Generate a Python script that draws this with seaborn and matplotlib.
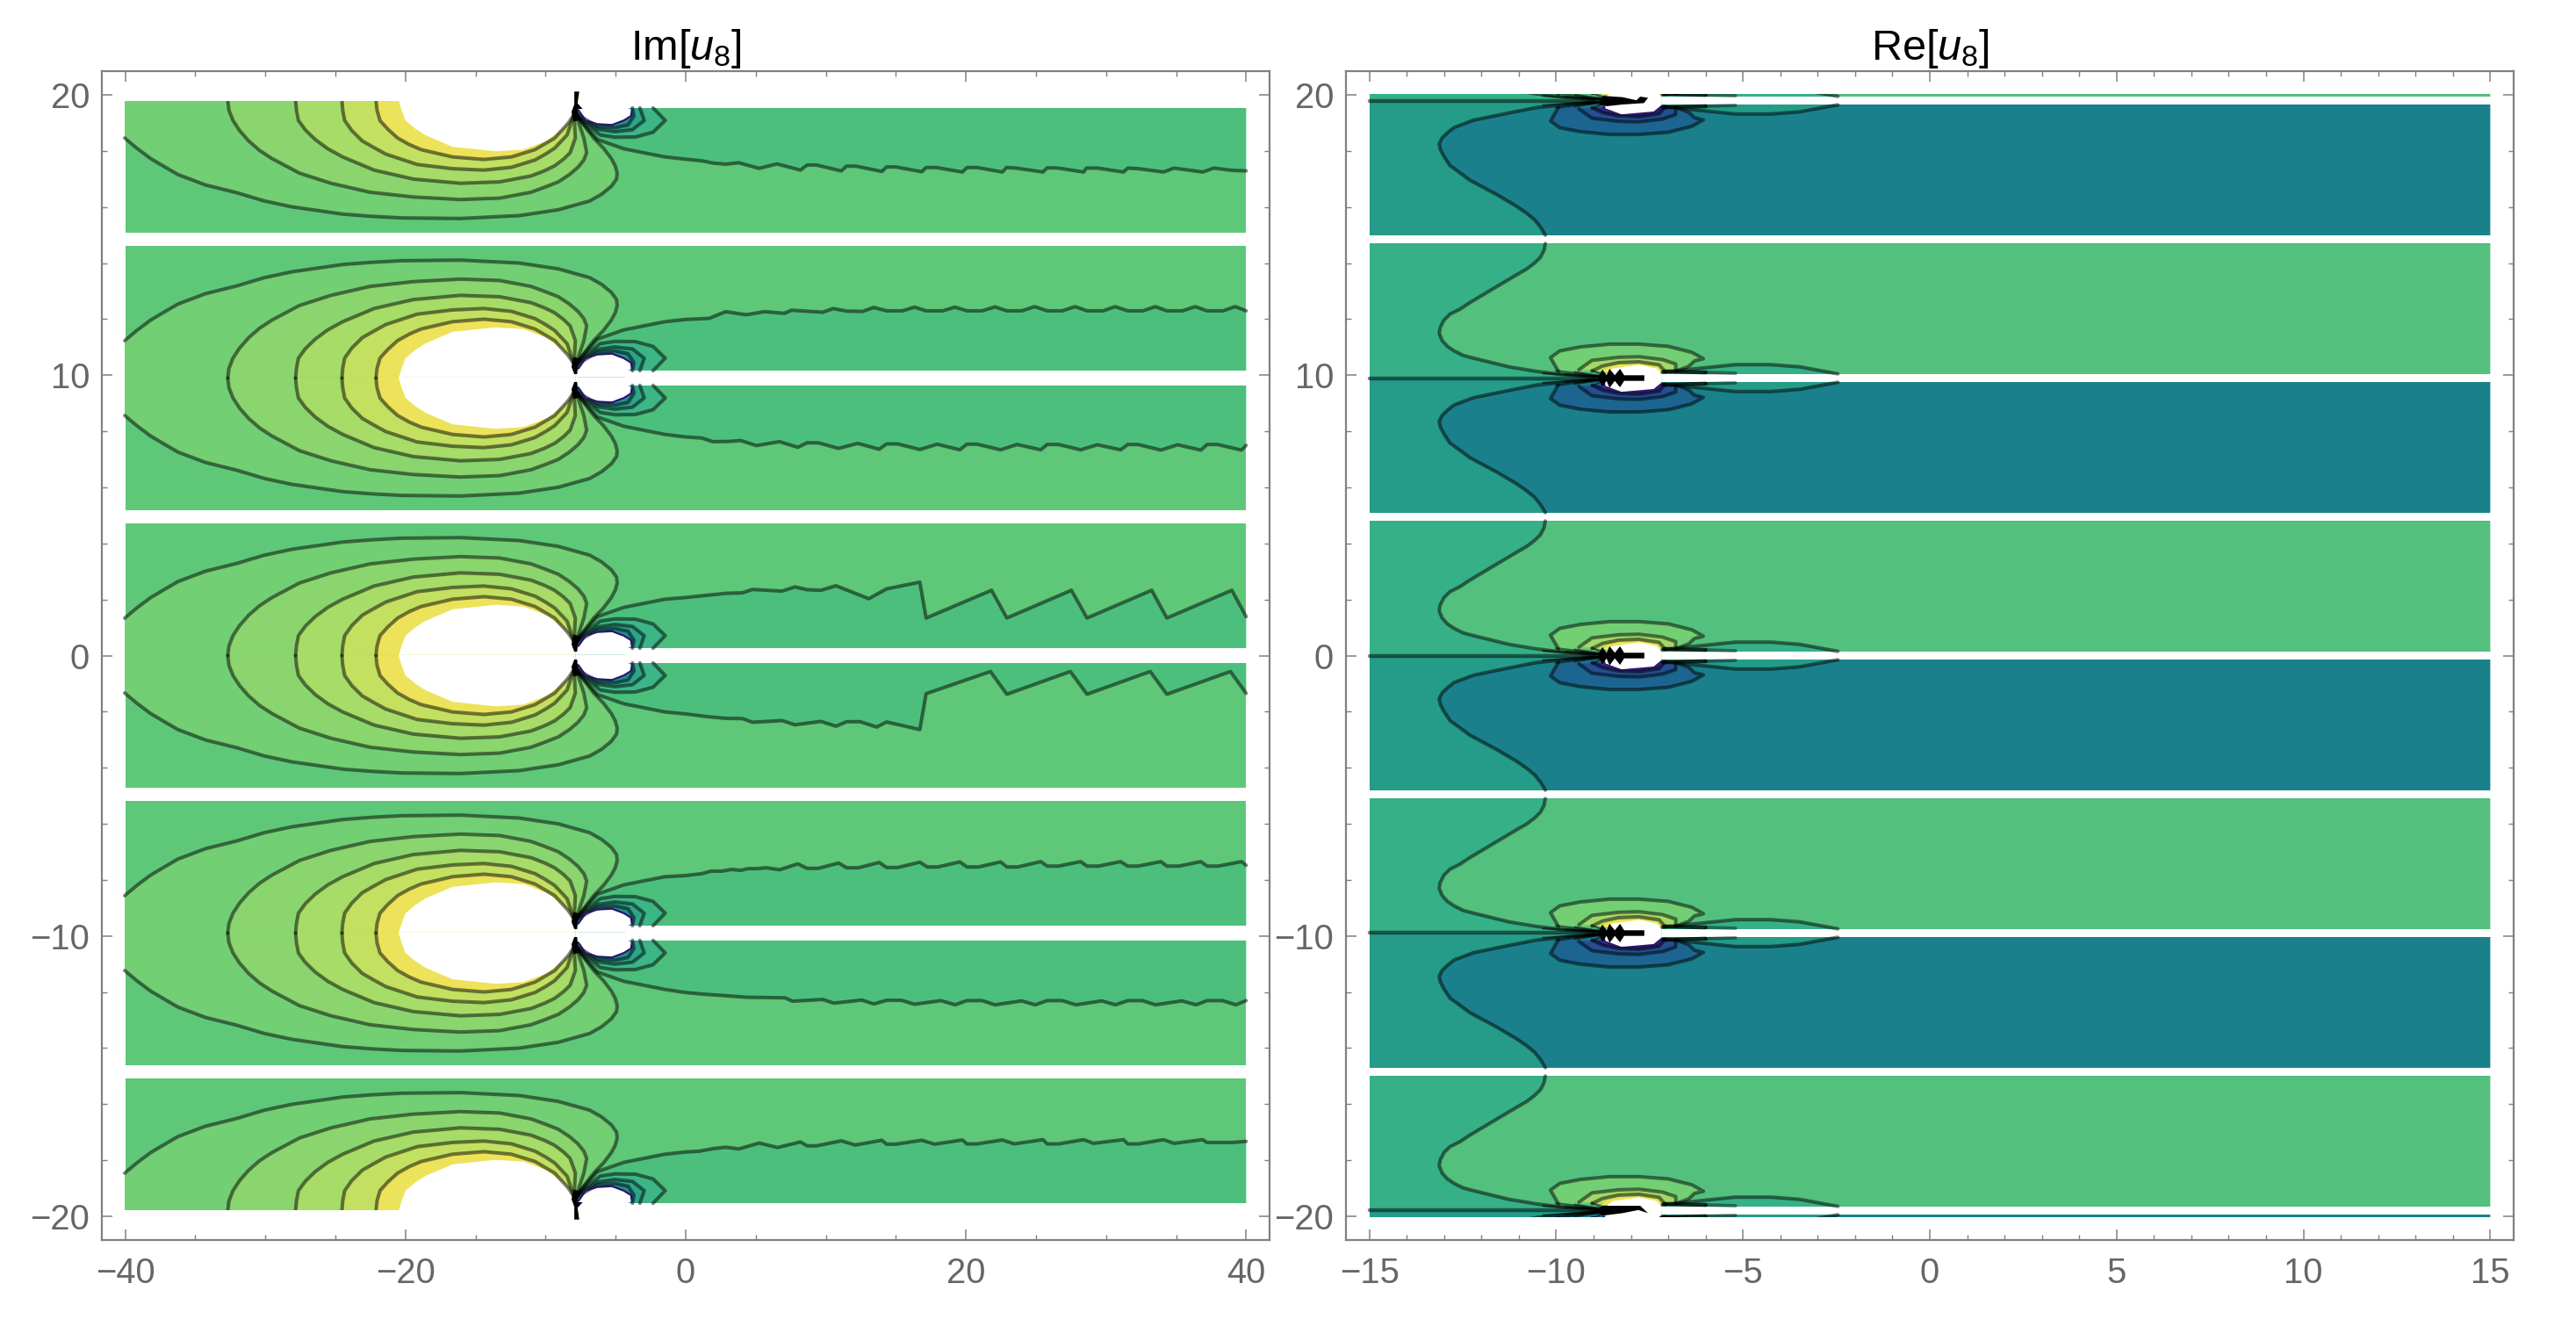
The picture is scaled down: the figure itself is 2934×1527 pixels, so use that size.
import numpy as np
import matplotlib
matplotlib.use("Agg")
import matplotlib.pyplot as plt
from matplotlib.patches import Rectangle
from matplotlib.ticker import MultipleLocator
import seaborn as sns

# ---------- values ----------
CELL_CENTERS = [19.8, 9.9, 0.0, -9.9, -19.8]
IM_XRANGE = (-40.0, 40.0)
RE_XRANGE = (-15.0, 15.0)

# Im[u8] level curves, upper half of a cell (x, offset from the cell centre)
IM_A_X = [-40.04,-39.17,-38.19,-37.2,-36.23,-34.27,-32.03,-30.08,-28.12,-24.48,-22.38,-20.28,-16.08,-11.88,-9.09,-6.85,-6.0,-5.31,-4.94,-4.89,-5.03,-5.31,-5.87,-6.57,-7.83]
IM_A_Y = [1.336,1.70,2.067,2.36,2.641,3.01,3.288,3.58,3.789,4.05,4.13,4.186,4.207,4.103,3.894,3.581,3.34,3.059,2.80,2.589,2.33,2.067,1.70,1.336,0.501]
IM_B_X = [-32.68,-32.6,-32.31,-31.84,-31.19,-30.41,-29.52,-27.56,-25.32,-22.52,-19.44,-16.08,-13.28,-11.04,-10.06,-9.09,-8.3,-7.69,-7.27,-7.07,-7.27,-7.83]
IM_B_Y = [0,0.34,0.71,1.07,1.44,1.78,2.07,2.59,2.95,3.27,3.44,3.53,3.48,3.27,3.09,2.90,2.64,2.38,2.12,1.86,1.34,0.50]
IM_C_X = [-27.84,-27.78,-27.64,-27.14,-26.44,-25.54,-24.48,-22.24,-19.44,-16.08,-13.28,-11.04,-10.06,-9.36,-8.72,-8.25,-7.88,-7.97]
IM_C_Y = [0,0.34,0.71,1.05,1.39,1.72,2.01,2.48,2.80,2.95,2.90,2.69,2.50,2.33,2.09,1.86,1.34,0.50]
IM_D_X = [-24.53,-24.48,-24.34,-23.83,-23.08,-22.24,-21.40,-19.16,-16.64,-14.40,-12.44,-10.76,-10.01,-9.36,-8.47,-7.97]
IM_D_Y = [0,0.34,0.71,1.07,1.44,1.68,1.91,2.28,2.43,2.48,2.38,2.12,1.91,1.70,1.23,0.50]
IM_E_X = [-22.10,-22.03,-21.82,-21.26,-20.56,-19.72,-18.88,-16.64,-14.40,-12.44,-10.76,-9.36,-8.39,-7.97]
IM_E_Y = [0,0.34,0.71,1.02,1.336,1.57,1.75,2.01,2.10,2.01,1.75,1.34,0.81,0.50]
IM_HOLE_X = [-20.48,-20.28,-20.0,-19.3,-18.6,-16.64,-13.56,-11.6,-9.92,-8.81,-8.25,-7.88]
IM_HOLE_Y = [0,0.34,0.71,1.0,1.23,1.65,1.81,1.75,1.44,1.02,0.71,0.14]
IM_SMALL_X = [-7.87,-7.66,-7.14,-6.30,-5.26,-4.42,-3.90,-3.84,-4.21]
IM_SMALL_Y = [0.19,0.34,0.71,0.84,0.87,0.71,0.55,0.34,0.24]
IM_L1_X = [-7.73,-6.10,-5.05,-3.59,-2.33,-1.46,-2.33]
IM_L1_Y = [0.60,1.23,1.31,1.30,1.13,0.71,0.26]
IM_L2_X = [-7.73,-6.30,-5.05,-3.80,-2.96,-3.27]
IM_L2_Y = [0.55,1.02,1.11,1.04,0.71,0.26]
IM_L3_X = [-7.73,-6.30,-5.05,-4.11,-3.69,-3.80]
IM_L3_Y = [0.50,0.92,0.97,0.87,0.55,0.26]
IM_HEAD_X = [-7.73,-6.30,-4.42,-1.50]
IM_HEAD_Y = [0.60,1.39,1.72,2.01]
IM_BLACK_X = [-7.95,-7.75,-7.70,-7.45,-8.00,-8.15]
IM_BLACK_Y = [0.14,0.14,0.40,0.68,0.75,0.40]
IM_TAG_X = [-7.95,-7.95,-7.60,-7.72,-7.35,-7.35]
IM_TAG_Y = [-0.3,0.32,0.32,-0.1,-0.3,-0.3]

# long jagged curve right of the pole, one per half cell
B0U_X = [-0.04,2.86,4.05,4.76,6.87,7.80,8.67,9.64,10.73,13.07,14.34,16.71,17.16,21.83,22.92,27.53,28.64,33.26,34.34,38.98,40.0]
B0U_Y = [2.07,2.22,2.24,2.36,2.30,2.45,2.35,2.33,2.49,2.03,2.38,2.62,1.34,2.33,1.34,2.33,1.34,2.33,1.34,2.33,1.39]
B0D_X = [-0.04,1.54,2.86,4.05,4.76,6.87,7.80,9.64,10.73,11.49,12.44,13.63,14.34,16.71,17.16,21.75,22.92,27.45,28.64,33.15,34.34,38.88,40.0]
B0D_Y = [-2.08,-2.18,-2.24,-2.25,-2.38,-2.32,-2.47,-2.35,-2.52,-2.36,-2.36,-2.55,-2.37,-2.64,-1.36,-0.57,-1.38,-0.57,-1.38,-0.57,-1.38,-0.57,-1.35]
B20D_X = [-0.04,1.15,1.94,2.86,3.79,5.24,6.50,8.19,8.67,9.33,11.1,11.49,12.15,14.0,14.34,15.0,16.85,17.16,17.9,19.75,20.07,20.8,22.6,22.9,23.6,25.5,25.8,26.6,28.4,28.6,29.4,31.25,31.55,32.3,34.1,34.85,36.9,37.7,39.0,40.0]
B20D_Y = [-2.09,-2.15,-2.23,-2.27,-2.22,-2.42,-2.26,-2.48,-2.30,-2.30,-2.51,-2.34,-2.34,-2.53,-2.37,-2.37,-2.54,-2.39,-2.39,-2.55,-2.39,-2.39,-2.55,-2.39,-2.41,-2.55,-2.40,-2.41,-2.55,-2.41,-2.41,-2.55,-2.41,-2.43,-2.55,-2.41,-2.55,-2.41,-2.49,-2.51]
B10U_X = [-0.04,1.67,2.86,4.31,5.63,7.03,7.56,9.78,10.52,11.49,12.63,13.42,14.34,15.47,16.32,17.16,18.35,19.22,20.07,21.15,22.07,22.92,24.0,24.9,25.8,26.87,27.8,28.64,29.8,30.65,31.55,32.63,33.52,34.34,35.45,36.37,37.2,38.35,39.22,40.0]
B10U_Y = [2.09,2.13,2.37,2.26,2.37,2.31,2.42,2.35,2.48,2.39,2.38,2.52,2.40,2.40,2.53,2.40,2.40,2.53,2.40,2.40,2.54,2.40,2.40,2.55,2.40,2.40,2.55,2.40,2.40,2.55,2.40,2.40,2.55,2.40,2.40,2.55,2.40,2.40,2.55,2.40]
B10D_X = [-0.04,1.15,1.94,3.13,3.92,5.05,6.69,8.0,8.67,9.46,10.91,12.28,13.81,14.34,15.13,16.71,17.95,19.56,20.07,20.8,22.47,23.65,25.34,25.8,26.6,28.19,29.38,31.04,31.55,32.28,33.92,35.1,36.77,37.22,37.95,39.67,40.0]
B10D_Y = [-2.10,-2.14,-2.27,-2.26,-2.23,-2.41,-2.27,-2.47,-2.31,-2.31,-2.51,-2.33,-2.54,-2.35,-2.35,-2.55,-2.36,-2.56,-2.36,-2.36,-2.56,-2.37,-2.56,-2.37,-2.37,-2.56,-2.38,-2.56,-2.37,-2.37,-2.57,-2.38,-2.57,-2.37,-2.37,-2.57,-2.40]
BM10U_X = [-0.04,1.15,1.8,2.6,3.26,3.92,4.45,5.1,5.76,6.69,8.0,8.67,9.46,10.91,11.49,12.31,13.81,14.34,15.13,16.71,17.24,18.0,19.56,20.07,20.9,22.47,22.92,23.7,25.34,25.8,26.6,28.19,28.64,29.46,31.04,31.55,32.28,33.92,34.34,35.2,36.77,37.22,38.0,39.67,40.0]
BM10U_Y = [2.05,2.12,2.21,2.21,2.27,2.24,2.30,2.30,2.33,2.26,2.47,2.31,2.31,2.50,2.33,2.33,2.52,2.34,2.34,2.53,2.36,2.36,2.54,2.36,2.36,2.54,2.36,2.36,2.55,2.39,2.39,2.55,2.39,2.39,2.55,2.39,2.39,2.55,2.39,2.39,2.55,2.39,2.39,2.55,2.42]
BM10D_X = [-0.04,1.28,2.73,4.31,7.08,7.61,9.78,10.57,12.57,13.42,14.34,15.4,16.32,18.22,19.22,20.07,21.15,22.07,23.97,24.95,25.8,26.87,27.85,29.7,30.67,31.55,32.6,33.52,35.42,36.42,37.22,38.3,39.27,40.0]
BM10D_Y = [-2.12,-2.18,-2.23,-2.29,-2.31,-2.43,-2.37,-2.50,-2.39,-2.53,-2.40,-2.40,-2.54,-2.41,-2.56,-2.41,-2.41,-2.56,-2.42,-2.56,-2.41,-2.41,-2.56,-2.42,-2.56,-2.41,-2.41,-2.56,-2.42,-2.56,-2.41,-2.41,-2.56,-2.41]
BM20U_X = [-0.04,1.0,1.94,2.86,3.79,5.24,6.56,8.19,8.67,9.33,11.1,12.1,14.0,14.34,15.0,16.85,17.77,19.75,20.07,20.8,22.6,23.45,25.5,25.8,26.6,28.4,29.1,31.25,31.55,32.3,34.1,34.85,36.9,37.2,39.0,40.0]
BM20U_Y = [2.09,2.12,2.21,2.26,2.20,2.41,2.25,2.45,2.31,2.31,2.49,2.34,2.51,2.37,2.37,2.51,2.37,2.52,2.38,2.38,2.52,2.38,2.53,2.38,2.38,2.53,2.40,2.53,2.38,2.38,2.53,2.40,2.53,2.43,2.43,2.47]
IM_BRANCHES = {
    (19.8, -1): (B20D_X, B20D_Y), (9.9, 1): (B10U_X, B10U_Y), (9.9, -1): (B10D_X, B10D_Y),
    (0.0, 1): (B0U_X, B0U_Y), (0.0, -1): (B0D_X, B0D_Y), (-9.9, 1): (BM10U_X, BM10U_Y),
    (-9.9, -1): (BM10D_X, BM10D_Y), (-19.8, 1): (BM20U_X, BM20U_Y),
}

# Re[u8] level curves
RE_UP_X = [-10.29,-10.32,-10.42,-10.58,-10.79,-11.05,-11.58,-12.31,-12.57,-12.84,-13.0,-13.10,-13.13,-13.05,-12.91,-12.73,-12.49,-12.21,-11.26,-10.53,-9.80,-8.96]
RE_UP_Y = [4.80,4.57,4.31,4.10,3.89,3.69,3.27,2.69,2.46,2.28,2.07,1.81,1.60,1.34,1.13,0.97,0.81,0.71,0.40,0.24,0.12,0.03]
RE_DN_X = [-10.29,-10.42,-10.58,-10.79,-11.05,-11.58,-12.31,-12.57,-12.84,-13.0,-13.10,-13.13,-13.05,-12.91,-12.73,-12.49,-12.21,-11.26,-10.53,-9.80,-8.96]
RE_DN_Y = [-4.80,-4.51,-4.25,-4.02,-3.78,-3.36,-2.84,-2.58,-2.32,-2.0,-1.74,-1.54,-1.33,-1.15,-0.96,-0.84,-0.70,-0.44,-0.25,-0.15,-0.05]
RE_L1_X = [-9.94,-10.15,-9.90,-9.35,-8.57,-7.78,-7.0,-6.37,-6.06,-6.30,-6.45,-6.80]
RE_L1_Y = [0.24,0.73,0.97,1.11,1.21,1.21,1.13,0.92,0.69,0.61,0.42,0.24]
RE_L2_X = [-9.39,-9.04,-8.33,-7.78,-7.16,-6.80,-6.80]
RE_L2_Y = [0.30,0.63,0.74,0.76,0.66,0.50,0.27]
RE_L3_X = [-9.04,-8.76,-8.33,-7.78,-7.24,-7.08]
RE_L3_Y = [0.25,0.43,0.55,0.58,0.47,0.22]
RE_L4_X = [-8.80,-8.60,-8.33,-7.78,-7.30,-7.15]
RE_L4_Y = [0.20,0.38,0.48,0.51,0.41,0.20]
RE_HOLE_X = [-8.72,-8.49,-7.78,-7.31,-7.17,-7.17,-7.39,-8.25,-8.68]
RE_HOLE_Y = [0.08,0.34,0.47,0.34,0.13,-0.15,-0.39,-0.49,-0.28]
RE_SPIKE_X = [-8.9,-8.76,-8.65,-8.57,-8.43,-8.29,-8.18,-7.64,-7.64,-8.18,-8.29,-8.43,-8.57,-8.65,-8.76]
RE_SPIKE_Y = [0,0.30,0.10,0.33,0.10,0.33,0.10,0.10,-0.10,-0.10,-0.33,-0.10,-0.35,-0.10,-0.30]
RE_TOP_SPIKE_X = [-8.75,-8.22,-7.85,-7.75,-7.54,-7.65,-8.22,-8.64,-8.85]
RE_TOP_SPIKE_Y = [0.17,0.12,0.01,0.14,0.10,-0.09,-0.14,-0.20,-0.15]
RE_BOT_SPIKE_X = [-8.75,-8.22,-7.75,-7.54,-7.80,-8.22,-8.75,-9.0]
RE_BOT_SPIKE_Y = [0.17,0.17,0.17,-0.09,0.02,-0.09,-0.18,0.0]
RE_ARC_X = [-7.16,-6.22,-5.2,-4.26,-3.48,-2.46]
RE_ARC_Y = [0.21,0.34,0.48,0.48,0.40,0.15]
RE_FAN_X = [-10.35,-10.0,-9.75,-9.5,-9.3,-9.05]
RE_FAN_Y = [0.17,0.26,0.13,0.21,0.09,0.28]
RE_STREAK_DARK_X = [-7.12,-6.0]
RE_STREAK_DARK_Y = [0.24,0.20]
RE_STREAK_PALE_X = [-6.0,-5.2]
RE_STREAK_PALE_Y = [0.20,0.17]

IM_COLORS = {"outer": "#5ec878", "branch": "#4cbf7c", "A": "#72cf74", "B": "#8ad56e", "C": "#a6dc67",
             "D": "#c3e060", "E": "#ece35a", "L1": "#3cb587", "L2": "#2ea58a", "L3": "#22908c"}
RE_COLORS = {"up_r": "#53c07e", "up_l": "#36b086", "dn_r": "#1a808c", "dn_l": "#249c89",
             "up": ["#72cf74", "#a2da69", "#c4df60", "#f0e458"],
             "dn": ["#1c6590", "#244f93", "#2f2a85", "#351270"]}
X_TICKS = {"im": (20, 5), "re": (5, 1)}
TITLES = ["Im[$\\mathit{u}_{8}$]", "Re[$\\mathit{u}_{8}$]"]

# ---------- style ----------
sns.set_theme(style="ticks")
plt.rcParams["font.family"] = ["Liberation Sans", "DejaVu Sans"]
plt.rcParams["mathtext.fontset"] = "custom"
plt.rcParams["mathtext.rm"] = "Liberation Sans"
plt.rcParams["mathtext.it"] = "Liberation Sans:italic"
plt.rcParams["mathtext.bf"] = "Liberation Sans:bold"

W, H = 2934, 1527
fig = plt.figure(figsize=(W / 200, H / 200), dpi=200, facecolor="white")
ax_im = fig.add_axes([116 / W, 1 - 1412 / H, 1330 / W, 1331 / H])
ax_re = fig.add_axes([1533 / W, 1 - 1412 / H, 1330 / W, 1331 / H])
LINE_LW = 1.45
LINE_ALPHA = 0.5
SEAM = 0.04
IM_SLIT = 0.28
RE_SLIT = 0.14


def clip_box(ax, x0, x1, y):
    return Rectangle((x0, -y), x1 - x0, 2 * y, transform=ax.transData)


def poly(ax, xs, ys, color, clip):
    for p in ax.fill(xs, ys, color=color, lw=0):
        p.set_clip_path(clip)


def line(ax, xs, ys, clip, color="black", alpha=LINE_ALPHA, lw=LINE_LW):
    sns.lineplot(x=np.asarray(xs), y=np.asarray(ys), sort=False, estimator=None, errorbar=None,
                 color=color, alpha=alpha, linewidth=lw, ax=ax, legend=False)
    ax.lines[-1].set_clip_path(clip)
    ax.lines[-1].set_solid_joinstyle("round")


def closed_to_axis(xs, ys, c, s):
    # the small overlap past the centre keeps the two halves from showing a seam
    return list(xs) + [xs[-1], xs[0]], c + s * np.array(list(ys) + [-SEAM, -SEAM])


def white_slit(ax, x0, x1, c, s, half, clip):
    # reaches past the centre so that it also clears the overlap of the other half
    poly(ax, [x0, x1, x1, x0], [c - s * 2 * SEAM, c - s * 2 * SEAM, c + s * half, c + s * half], "white", clip)


def draw_im_half(ax, c, s, clip):
    hw = 4.7
    x0, x1 = IM_XRANGE
    poly(ax, [x0, x1, x1, x0], [c, c, c + s * hw, c + s * hw], IM_COLORS["outer"], clip)
    bx, by = IM_BRANCHES[(c, s)]
    off = [s * v for v in IM_HEAD_Y] + list(by)
    fx = IM_HEAD_X + list(bx)
    px, py = list(fx) + [fx[-1], fx[0]], c + np.array(off + [0, 0])
    poly(ax, px, py, IM_COLORS["branch"], clip)
    for key, xs, ys in [("L1", IM_L1_X, IM_L1_Y), ("L2", IM_L2_X, IM_L2_Y), ("L3", IM_L3_X, IM_L3_Y)]:
        a, b = closed_to_axis(xs, ys, c, s)
        poly(ax, a, b, IM_COLORS[key], clip)
    for key, xs, ys in [("A", IM_A_X, IM_A_Y), ("B", IM_B_X, IM_B_Y), ("C", IM_C_X, IM_C_Y),
                        ("D", IM_D_X, IM_D_Y), ("E", IM_E_X, IM_E_Y)]:
        a, b = closed_to_axis(xs, ys, c, s)
        poly(ax, a, b, IM_COLORS[key], clip)
    a, b = closed_to_axis(IM_HOLE_X, IM_HOLE_Y, c, s)
    poly(ax, a, b, "white", clip)
    a, b = closed_to_axis(IM_SMALL_X, IM_SMALL_Y, c, s)
    poly(ax, a, b, "white", clip)
    white_slit(ax, -4.3, x1 + 0.1, c, s, IM_SLIT, clip)
    for xs, ys in [(IM_A_X, IM_A_Y), (IM_B_X, IM_B_Y), (IM_C_X, IM_C_Y), (IM_D_X, IM_D_Y), (IM_E_X, IM_E_Y),
                   (IM_L1_X, IM_L1_Y), (IM_L2_X, IM_L2_Y), (IM_L3_X, IM_L3_Y)]:
        line(ax, xs, c + s * np.array(ys), clip)
    line(ax, fx, c + np.array(off), clip)
    line(ax, IM_SMALL_X[1:-1], c + s * np.array(IM_SMALL_Y[1:-1]), clip, color="#2a1470", alpha=1, lw=0.8)
    for p in ax.fill(IM_BLACK_X, c + s * np.array(IM_BLACK_Y), color="black", lw=0, zorder=3):
        p.set_clip_path(clip)


def draw_re_half(ax, c, s, clip):
    hw = 4.8
    x0, x1 = RE_XRANGE
    key = "up" if s > 0 else "dn"
    cx, cy = (RE_UP_X, RE_UP_Y) if s > 0 else (RE_DN_X, RE_DN_Y)
    poly(ax, [x0, x1, x1, x0], [c, c, c + s * hw, c + s * hw], RE_COLORS[key + "_l"], clip)
    px = list(cx) + [x1, x1]
    py = list(c + np.array(cy)) + [c, c + s * hw]
    poly(ax, px, py, RE_COLORS[key + "_r"], clip)
    a, b = closed_to_axis(RE_ARC_X, RE_ARC_Y, c, s)
    poly(ax, a, b, RE_COLORS[key + "_l"], clip)
    for col, xs, ys in zip(RE_COLORS[key], [RE_L1_X, RE_L2_X, RE_L3_X, RE_L4_X], [RE_L1_Y, RE_L2_Y, RE_L3_Y, RE_L4_Y]):
        poly(ax, xs, c + s * np.array(ys), col, clip)
    white_slit(ax, -7.17, x1 + 0.1, c, s, RE_SLIT, clip)
    line(ax, cx, c + np.array(cy), clip)
    for xs, ys in [(RE_L1_X, RE_L1_Y), (RE_L2_X, RE_L2_Y), (RE_L3_X, RE_L3_Y), (RE_ARC_X, RE_ARC_Y)]:
        line(ax, xs, c + s * np.array(ys), clip)
    line(ax, RE_STREAK_DARK_X, c + s * np.array(RE_STREAK_DARK_Y), clip, alpha=0.75, lw=1.6)
    line(ax, RE_STREAK_PALE_X, c + s * np.array(RE_STREAK_PALE_Y), clip, alpha=0.4, lw=1.4)
    for fx, fy in zip(RE_FAN_X, RE_FAN_Y):
        line(ax, [fx, -8.6], [c + s * fy, c + s * 0.03], clip, alpha=0.5, lw=0.9)


# ---------- Im[u8] ----------
clip_im = clip_box(ax_im, -41, 41, 19.8)
for c in CELL_CENTERS:
    for s in (1, -1):
        if (c, s) in IM_BRANCHES:
            draw_im_half(ax_im, c, s, clip_im)
for c, s in [(19.8, 1), (-19.8, -1)]:
    ax_im.fill(IM_TAG_X, c + s * np.array(IM_TAG_Y), color="black", lw=0, zorder=3)

# ---------- Re[u8] ----------
clip_re = clip_box(ax_re, -16, 16, 20.03)
RE_SPIKES = {19.8: (RE_TOP_SPIKE_X, RE_TOP_SPIKE_Y), -19.8: (RE_BOT_SPIKE_X, RE_BOT_SPIKE_Y)}
for c in CELL_CENTERS:
    for s in (1, -1):
        draw_re_half(ax_re, c, s, clip_re)
    poly(ax_re, RE_HOLE_X, c + np.array(RE_HOLE_Y), "white", clip_re)
    line(ax_re, [-15.0, -8.7], [c, c], clip_re, alpha=0.5, lw=1.6)
    sx, sy = RE_SPIKES.get(c, (RE_SPIKE_X, RE_SPIKE_Y))
    for p in ax_re.fill(sx, c + np.array(sy), color="black", lw=0, zorder=3):
        p.set_clip_path(clip_re)

# ---------- axes ----------
for ax, name, xl, title in [(ax_im, "im", 41.67, TITLES[0]), (ax_re, "re", 15.625, TITLES[1])]:
    ax.set_xlim(-xl, xl)
    ax.set_ylim(-20.85, 20.85)
    ax.set_xlabel("")
    ax.set_ylabel("")
    ax.set_facecolor("white")
    major, minor = X_TICKS[name]
    ax.xaxis.set_major_locator(MultipleLocator(major))
    ax.xaxis.set_minor_locator(MultipleLocator(minor))
    ax.yaxis.set_major_locator(MultipleLocator(10))
    ax.yaxis.set_minor_locator(MultipleLocator(2))
    ax.tick_params(which="major", direction="in", length=4.2, width=0.55, color="#808080",
                   top=True, right=True, labelsize=14.4, labelcolor="#666666")
    ax.tick_params(axis="x", which="major", pad=7)
    ax.tick_params(axis="y", which="major", pad=5)
    ax.tick_params(which="minor", direction="in", length=2.2, width=0.5, color="#808080", top=True, right=True)
    for sp in ax.spines.values():
        sp.set_visible(True)
        sp.set_color("#808080")
        sp.set_linewidth(0.8)
    ax.set_title(title, fontsize=17.5, color="black", pad=4.6)

fig.savefig("out.png", dpi=200, facecolor="white")
